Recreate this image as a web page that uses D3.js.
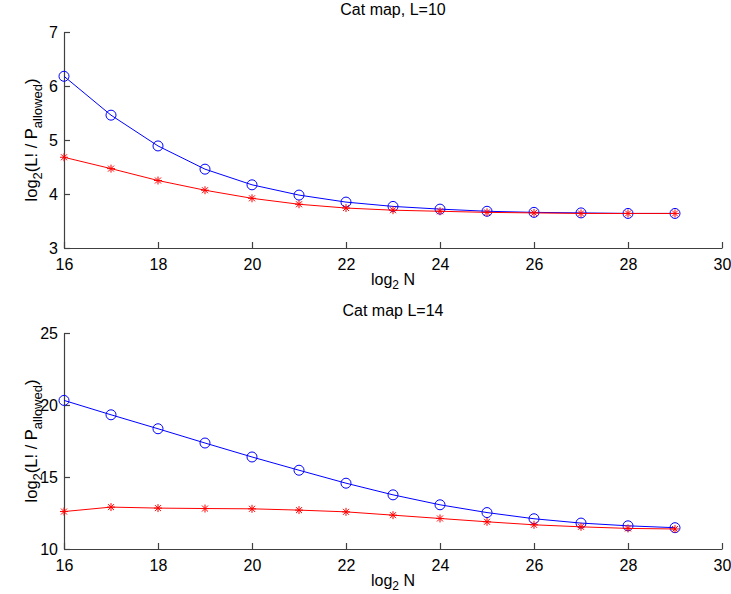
<!DOCTYPE html>
<html><head><meta charset="utf-8">
<script src="https://cdn.jsdelivr.net/npm/d3@7"></script>
<style>
body{margin:0;background:#fff;}
svg{display:block;font-family:"Liberation Sans",Arial,Helvetica,sans-serif;}
</style></head>
<body><svg id="c" width="731" height="594"></svg>
<script>
const logN = [16,17,18,19,20,21,22,23,24,25,26,27,28,29];
const xTicks = [16,18,20,22,24,26,28,30];

const titleTop = "Cat map, L=10";
const blueTop = [6.18,5.46,4.89,4.46,4.17,3.98,3.85,3.77,3.72,3.68,3.66,3.65,3.64,3.64];
const redTop  = [4.68,4.47,4.25,4.07,3.92,3.81,3.74,3.70,3.68,3.66,3.65,3.64,3.64,3.64];
const yTicksTop = [3,4,5,6,7];

const titleBot = "Cat map L=14";
const blueBot = [20.32,19.32,18.35,17.36,16.39,15.47,14.57,13.76,13.07,12.53,12.10,11.80,11.61,11.48];
const redBot  = [12.60,12.91,12.84,12.81,12.79,12.70,12.58,12.35,12.12,11.89,11.68,11.54,11.43,11.39];
const yTicksBot = [10,15,20,25];

const svg = d3.select("#c");

function panel(top, bottom, yDomain, yTicks, title, blue, red){
  const x = d3.scaleLinear().domain([16,30]).range([64,722]);
  const y = d3.scaleLinear().domain(yDomain).range([bottom, top]);
  const g = svg.append("g");
  const axColor = "#404040";

  const xa = g.append("g").attr("transform",`translate(0,${bottom})`)
    .call(d3.axisBottom(x).tickValues(xTicks).tickFormat(d3.format("d")).tickSizeInner(-6).tickSizeOuter(0).tickPadding(11));
  const ya = g.append("g").attr("transform",`translate(64,0)`)
    .call(d3.axisLeft(y).tickValues(yTicks).tickFormat(d3.format("d")).tickSizeInner(-6).tickSizeOuter(0).tickPadding(6));
  [xa,ya].forEach(a=>{
    a.selectAll("path,line").attr("stroke",axColor).attr("stroke-width",1.2);
    a.selectAll("text").attr("fill","#000").attr("font-size",16).attr("font-family","Liberation Sans, Arial, sans-serif");
  });

  g.append("text").attr("x",393).attr("y",top-17).attr("text-anchor","middle")
    .attr("font-size",16).text(title);

  const xl = g.append("text").attr("x",393).attr("y",bottom+37).attr("text-anchor","middle").attr("font-size",16);
  xl.append("tspan").text("log");
  xl.append("tspan").attr("font-size",12).attr("dy",4).text("2");
  xl.append("tspan").attr("dy",-4).text(" N");

  const yl = g.append("text").attr("transform",`translate(37,${(top+bottom)/2}) rotate(-90)`)
    .attr("text-anchor","middle").attr("font-size",16.5);
  yl.append("tspan").text("log");
  yl.append("tspan").attr("font-size",13).attr("dy",5).text("2");
  yl.append("tspan").attr("dy",-5).text("(L! / P");
  yl.append("tspan").attr("font-size",13).attr("dy",5).text("allowed");
  yl.append("tspan").attr("dy",-5).text(")");

  const line = d3.line().x((d,i)=>x(logN[i])).y(d=>y(d));
  // blue
  g.append("path").datum(blue).attr("d",line).attr("fill","none").attr("stroke","#0000ff").attr("stroke-width",1);
  g.selectAll(null).data(blue).enter().append("circle")
    .attr("cx",(d,i)=>x(logN[i])).attr("cy",d=>y(d)).attr("r",5)
    .attr("fill","none").attr("stroke","#0000ff").attr("stroke-width",1);
  // red
  g.append("path").datum(red).attr("d",line).attr("fill","none").attr("stroke","#ff0000").attr("stroke-width",1);
  const star = g.selectAll(null).data(red).enter().append("g")
    .attr("transform",(d,i)=>`translate(${x(logN[i])},${y(d)})`);
  const s = 4, t = 3;
  star.append("path").attr("d",`M${-s},0H${s}M0,${-s}V${s}M${-t},${-t}L${t},${t}M${-t},${t}L${t},${-t}`)
    .attr("stroke","#ff0000").attr("stroke-width",1).attr("fill","none");
}

panel(32, 248, [3,7], yTicksTop, titleTop, blueTop, redTop);
panel(333, 549, [10,25], yTicksBot, titleBot, blueBot, redBot);
</script></body></html>
